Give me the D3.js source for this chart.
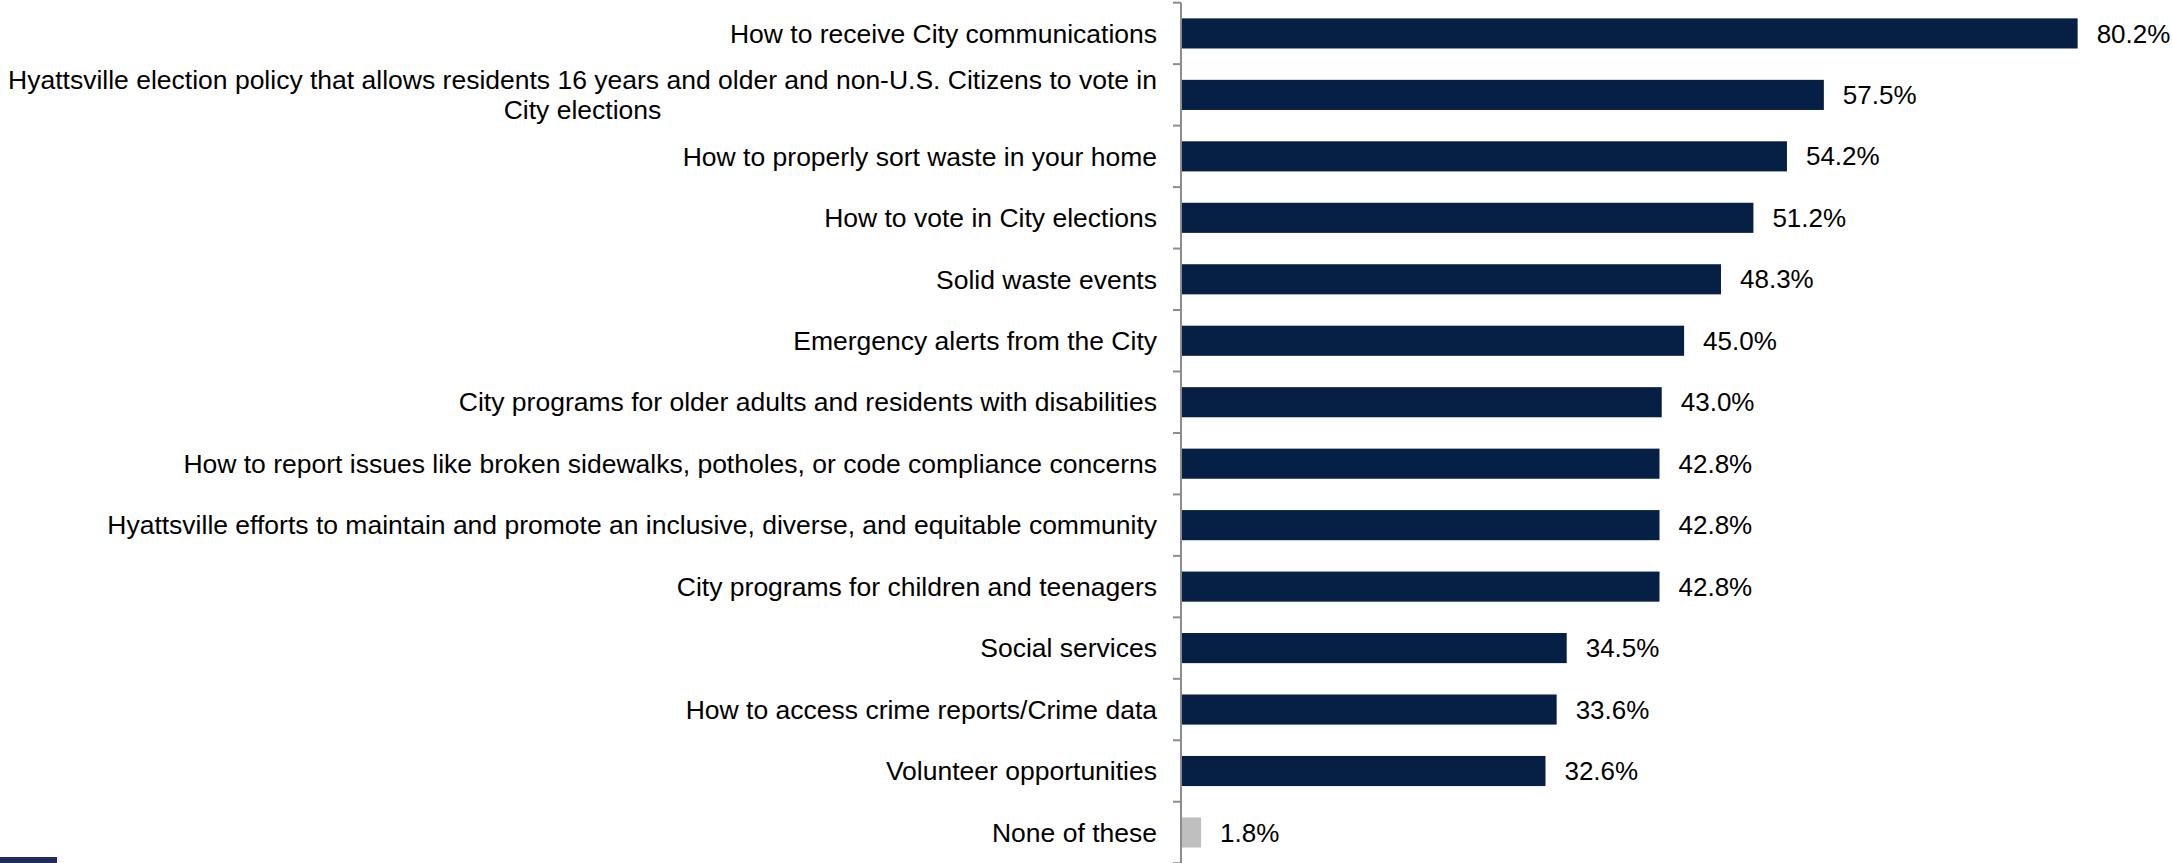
<!DOCTYPE html>
<html>
<head>
<meta charset="utf-8">
<script src="https://cdn.jsdelivr.net/npm/d3@7"></script>
<style>
  html, body { margin: 0; padding: 0; background: #ffffff; }
  svg { display: block; }
  text { font-family: "Liberation Sans", Arial, sans-serif; fill: #000; }
</style>
</head>
<body>
<svg id="chart" width="2172" height="863"></svg>
<script>
const categories = [
  "How to receive City communications",
  "Hyattsville election policy that allows residents 16 years and older and non-U.S. Citizens to vote in|City elections",
  "How to properly sort waste in your home",
  "How to vote in City elections",
  "Solid waste events",
  "Emergency alerts from the City",
  "City programs for older adults and residents with disabilities",
  "How to report issues like broken sidewalks, potholes, or code compliance concerns",
  "Hyattsville efforts to maintain and promote an inclusive, diverse, and equitable community",
  "City programs for children and teenagers",
  "Social services",
  "How to access crime reports/Crime data",
  "Volunteer opportunities",
  "None of these"
];
const values = [80.2, 57.5, 54.2, 51.2, 48.3, 45.0, 43.0, 42.8, 42.8, 42.8, 34.5, 33.6, 32.6, 1.8];
const highlight = [false, false, false, false, false, false, false, false, false, false, false, false, false, true];

(function () {
const W = 2172, H = 863;
const axisX = 1181;
const plotTop = 2.7, plotBottom = 863.2;
const labelFont = 26.5;
const valueFont = 26;

const svg = d3.select("#chart");

const y = d3.scaleBand()
  .domain(categories)
  .range([plotTop, plotBottom])
  .paddingInner(0.51)
  .paddingOuter(0.255);

const x = d3.scaleLinear()
  .domain([0, 100])
  .range([axisX, axisX + 1118]);

// bars
svg.append("g").selectAll("rect")
  .data(categories)
  .join("rect")
  .attr("x", x(0))
  .attr("y", d => y(d))
  .attr("width", (d, i) => x(values[i]) - x(0))
  .attr("height", y.bandwidth())
  .attr("fill", (d, i) => highlight[i] ? "#bfbfbf" : "#061f45");

// value labels
svg.append("g").selectAll("text")
  .data(categories)
  .join("text")
  .attr("x", (d, i) => x(values[i]) + 19)
  .attr("y", d => y(d) + y.bandwidth() / 2)
  .attr("dy", "0.35em")
  .attr("font-size", valueFont)
  .text((d, i) => values[i].toFixed(1) + "%");

// axis line with ticks at band boundaries
const step = y.step();
const boundaries = d3.range(categories.length + 1).map(i => plotTop + i * step);
const ax = svg.append("g");
ax.append("line")
  .attr("x1", axisX).attr("x2", axisX)
  .attr("y1", plotTop).attr("y2", H)
  .attr("stroke", "#8c8c8c").attr("stroke-width", 2);
ax.selectAll("line.tick")
  .data(boundaries)
  .join("line")
  .attr("class", "tick")
  .attr("x1", axisX - 8).attr("x2", axisX)
  .attr("y1", d => d).attr("y2", d => d)
  .attr("stroke", "#8c8c8c").attr("stroke-width", 2);

// category labels
const labelRight = axisX - 24;
const lg = svg.append("g");
categories.forEach(c => {
  const lines = c.split("|");
  const cy = y(c) + y.bandwidth() / 2;
  if (lines.length === 1) {
    lg.append("text")
      .attr("x", labelRight)
      .attr("y", cy)
      .attr("dy", "0.35em")
      .attr("text-anchor", "end")
      .attr("font-size", labelFont)
      .text(lines[0]);
  } else {
    const lh = 30;
    const t = lg.append("text")
      .attr("font-size", labelFont)
      .attr("text-anchor", "middle");
    const tmp = lg.append("text").attr("font-size", labelFont).text(lines[0]);
    const w = tmp.node().getComputedTextLength();
    tmp.remove();
    const cx = labelRight - w / 2;
    lines.forEach((ln, k) => {
      t.append("tspan")
        .attr("x", cx)
        .attr("y", cy + (k - (lines.length - 1) / 2) * lh)
        .attr("dy", "0.35em")
        .text(ln);
    });
  }
});

// small dark block at bottom-left corner
svg.append("rect")
  .attr("x", 0).attr("y", 857)
  .attr("width", 57).attr("height", 6)
  .attr("fill", "#1f2d5c");
})();
</script>
</body>
</html>
